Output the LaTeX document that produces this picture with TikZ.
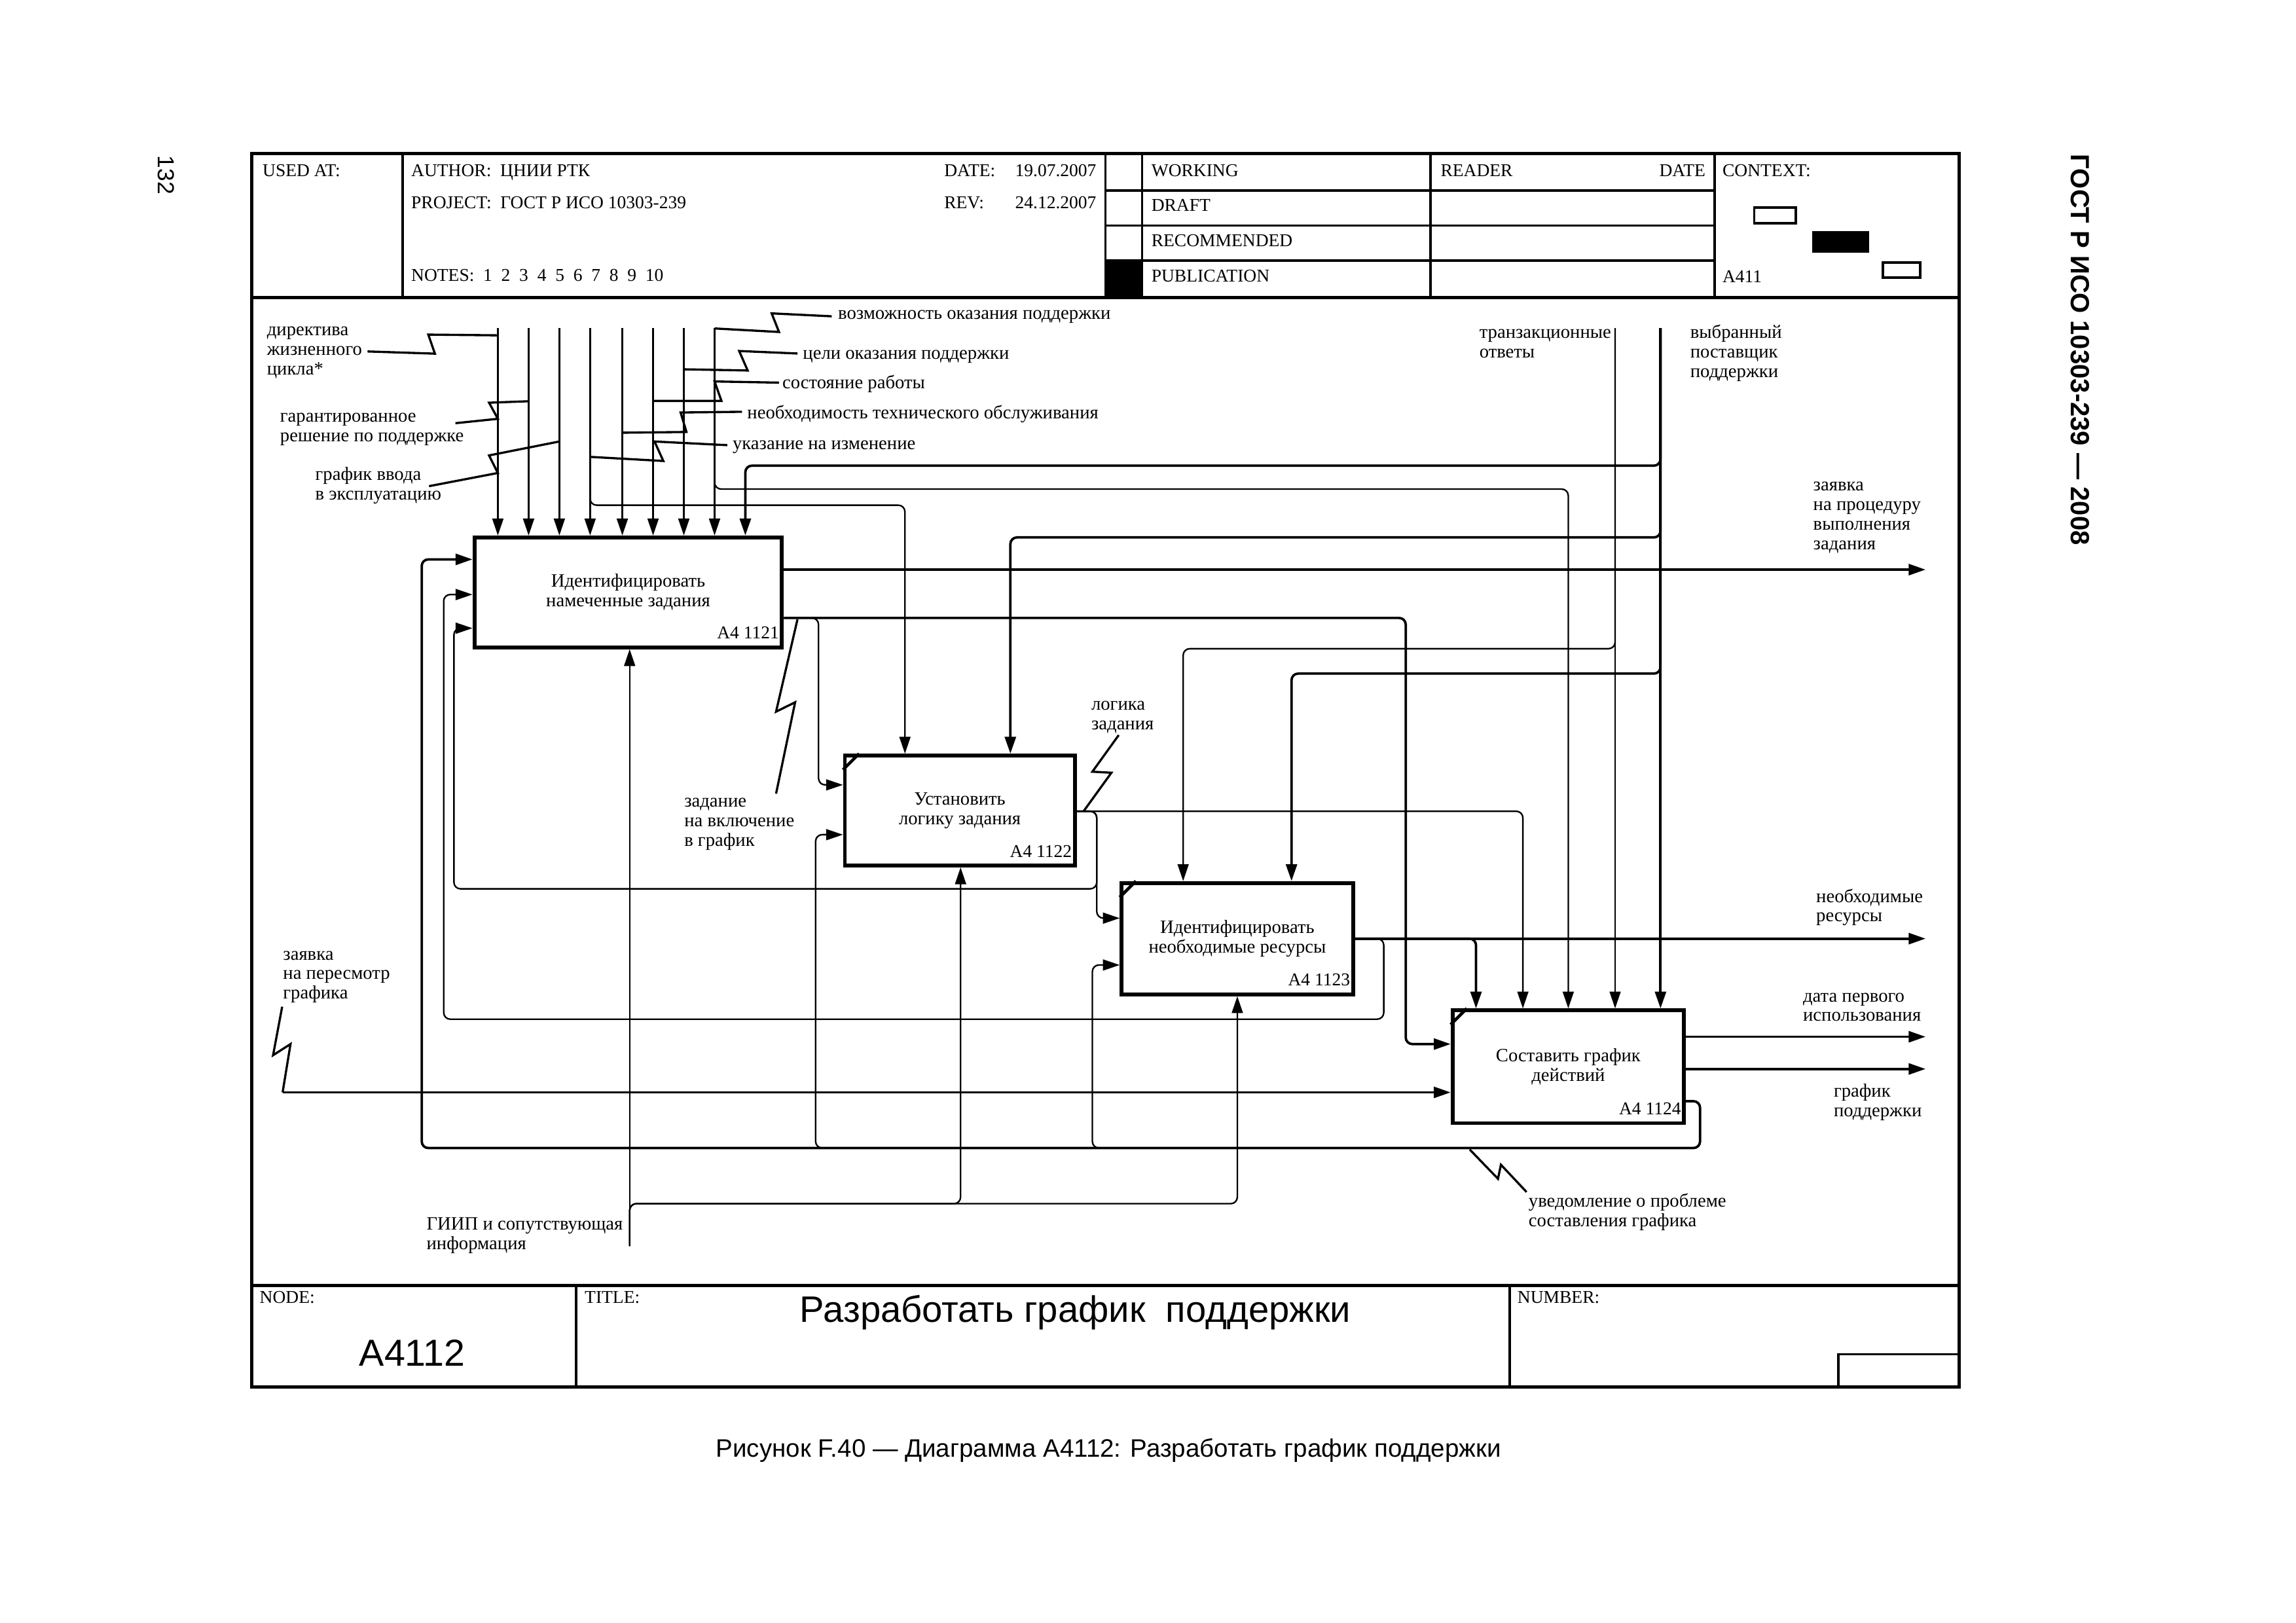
\documentclass[tikz,border=0pt]{standalone}
\usepackage{fontspec}
\setmainfont{Liberation Serif}
\newfontfamily\arialf{Liberation Sans}
\usetikzlibrary{arrows.meta,calc}
\newcommand\labfnt{\fontsize{7.3}{7.6}\selectfont}
\newcommand\hdrfnt{\fontsize{7}{7.5}\selectfont}
\newcommand\firstln{\rule{0pt}{5.2pt}}
\begin{document}
\begin{tikzpicture}[x=0.2mm,y=-0.2mm,
  thinl/.style={line width=0.6pt},
  thickl/.style={line width=0.95pt},
  arr/.style={-{Triangle[length=2.3mm,width=1.5mm]}},
  rc/.style={rounded corners=0.9mm},
  fbox/.style={draw,line width=1.5pt,inner sep=0pt,align=center,font=\labfnt},
  lab/.style={anchor=north west,inner sep=0pt,align=left,font=\labfnt},
  hd/.style={anchor=base west,inner sep=0pt,font=\hdrfnt},
  hde/.style={anchor=base east,inner sep=0pt,font=\hdrfnt},
  num/.style={anchor=base east,inner sep=0pt,font=\fontsize{7}{7}\selectfont},
  sq/.style={line width=0.85pt},
  frm/.style={line width=1.25pt},
  hln/.style={line width=0.9pt},
  tick/.style={line width=1.2pt}]
\useasboundingbox (0,0) rectangle (1568,1108);
\fill[white] (0,0) rectangle (1568,1108);

% ---------- frame ----------
\draw[frm] (172,105) rectangle (1338,947);
\draw[frm] (172,203) -- (1338,203);
\draw[frm] (172,878) -- (1338,878);
\draw[hln] (275,105) -- (275,203);
\draw[hln] (755,105) -- (755,203);
\draw[hln] (780,105) -- (780,203);
\draw[hln] (977,105) -- (977,203);
\draw[hln] (1171,105) -- (1171,203);
\draw[hln] (755,130) -- (1171,130);
\draw[hln] (755,154) -- (1171,154);
\draw[hln] (755,178) -- (1171,178);
\fill (755,178) rectangle (780,203);
\draw[line width=1pt] (1198,141.6) rectangle (1226.6,152.3);
\fill (1237.6,158) rectangle (1276.3,172.4);
\draw[line width=1pt] (1286,179.3) rectangle (1311.4,189.6);
\draw[hln] (393.5,878) -- (393.5,947);
\draw[hln] (1031,878) -- (1031,947);
\draw[hln] (1255.4,947) |- (1338,924.8);

% ---------- header texts ----------
\node[hd] (h1) at (179,120.5) {USED AT:};
\node[hd] (h2) at (280.5,120.5) {AUTHOR:~~ЦНИИ РТК};
\node[hd] (h3) at (644.5,120.5) {DATE:};
\node[hde] (h4) at (749,120.5) {19.07.2007};
\node[hd] (h5) at (280.5,142.5) {PROJECT:~~ГОСТ Р ИСО 10303-239};
\node[hd] (h6) at (644.5,142.5) {REV:};
\node[hde] (h7) at (749,142.5) {24.12.2007};
\node[hd] (h8) at (280.5,192) {NOTES:~~1~~2~~3~~4~~5~~6~~7~~8~~9~~10};
\node[hd] (h9) at (786,120.5) {WORKING};
\node[hd] (h10) at (786,144) {DRAFT};
\node[hd] (h11) at (786,168.5) {RECOMMENDED};
\node[hd] (h12) at (786,192.5) {PUBLICATION};
\node[hd] (h13) at (983.5,120.5) {READER};
\node[hde] (h14) at (1165,120.5) {DATE};
\node[hd] (h15) at (1176,120.5) {CONTEXT:};
\node[hd] (h16) at (1176,193) {A411};
\node[hd] (h17) at (177,890) {NODE:};
\node[hd] (h18) at (399,890) {TITLE:};
\node[hd] (h19) at (1036,890) {NUMBER:};
\node[anchor=base west,inner sep=0pt,font=\arialf\fontsize{14.6}{15}\selectfont] (nodeid) at (245,933) {A4112};
\node[anchor=base west,inner sep=0pt,font=\arialf\fontsize{14.3}{15}\selectfont] (title) at (546,903) {Разработать график~ поддержки};
\node[anchor=base,inner sep=0pt,font=\arialf\fontsize{9.8}{10}\selectfont] (caption) at (757,995) {Рисунок F.40 — Диаграмма A4112: Разработать график поддержки};
\node[rotate=-90,anchor=west,inner sep=0pt,font=\arialf\bfseries\fontsize{10.2}{10}\selectfont] (side) at (1420.5,105) {ГОСТ Р ИСО 10303-239 — 2008};
\node[rotate=-90,anchor=west,inner sep=0pt,font=\arialf\fontsize{9}{9}\selectfont] (page) at (113.5,106) {132};

% ---------- boxes ----------
\node[fbox,minimum width=42mm,minimum height=15mm] (b1) at (429,404.5) {Идентифицировать\\намеченные задания};
\node[fbox,minimum width=31.4mm,minimum height=15mm] (b2) at (655.5,553.5) {Установить\\логику задания};
\node[fbox,minimum width=31.6mm,minimum height=15.2mm] (b3) at (845,641) {Идентифицировать\\необходимые ресурсы};
\node[fbox,minimum width=31.6mm,minimum height=15.4mm] (b4) at (1071,728.5) {Составить график\\действий};
\node[num] (n1) at ($(b1.south east)+(-3,-7)$) {A4 1121};
\node[num] (n2) at ($(b2.south east)+(-3,-7)$) {A4 1122};
\node[num] (n3) at ($(b3.south east)+(-3,-7)$) {A4 1123};
\node[num] (n4) at ($(b4.south east)+(-3,-7)$) {A4 1124};
\draw[tick] ($(b2.north west)+(11,0)$) -- ($(b2.north west)+(0,11)$);
\draw[tick] ($(b3.north west)+(11,0)$) -- ($(b3.north west)+(0,11)$);
\draw[tick] ($(b4.north west)+(11,0)$) -- ($(b4.north west)+(0,11)$);

% ---------- coordinates ----------
\coordinate (t1) at (340,224);
\coordinate (t2) at (361,224);
\coordinate (t3) at (382,224);
\coordinate (t4) at (403,224);
\coordinate (t5) at (425,224);
\coordinate (t6) at (446,224);
\coordinate (t7) at (467,224);
\coordinate (t8) at (488,224);
\coordinate (t9) at (1134,224);
\coordinate (t10) at (1103,224);
\coordinate (k4) at (618,345);
\coordinate (k8) at (1071,334);
\coordinate (k9a) at (509,318);
\coordinate (k9b) at (690,367);
\coordinate (k9c) at (882,460);
\coordinate (k10) at (808,443);
\coordinate (o1a) at (1315,389);
\coordinate (r1) at (960,422);
\coordinate (k1b) at (960,713);
\coordinate (r1b) at (559,536);
\coordinate (r2) at (1040,554);
\coordinate (r2a) at (749,607);
\coordinate (r2b) at (310,429);
\coordinate (r2c) at (749,627);
\coordinate (o3) at (1315,641);
\coordinate (r3a) at (1008,641);
\coordinate (r3b) at (945,696);
\coordinate (r3c) at (303,406);
\coordinate (o4a) at (1315,708);
\coordinate (o4b) at (1315,730);
\coordinate (r4y) at (1161,752);
\coordinate (r4a) at (1161,784);
\coordinate (r4b) at (288,382);
\coordinate (r4c) at (557,570);
\coordinate (r4d) at (746,659);
\coordinate (i4) at (193,746);
\coordinate (m1) at (430,851);
\coordinate (m2) at (656,822);
\coordinate (m3) at (845,822);

% ---------- controls ----------
\foreach \t in {t1,t2,t3,t4,t5,t6,t7,t8}
  \draw[thinl,arr] (\t) -- (\t |- b1.north);
\draw[thinl,arr,rc] (t4) |- (k4) -- (k4 |- b2.north);
\draw[thinl,arr,rc] (t8) |- (k8) -- (k8 |- b4.north);
\draw[thickl,arr] (t9) -- (t9 |- b4.north);
\draw[thickl,arr,rc] (t9) |- (k9a) -- (k9a |- b1.north);
\draw[thickl,arr,rc] (t9) |- (k9b) -- (k9b |- b2.north);
\draw[thickl,arr,rc] (t9) |- (k9c) -- (k9c |- b3.north);
\draw[thinl,arr] (t10) -- (t10 |- b4.north);
\draw[thinl,arr,rc] (t10) |- (k10) -- (k10 |- b3.north);

% ---------- box 1 outputs ----------
\draw[thickl,arr] (b1.east |- o1a) -- (o1a);
\draw[thickl,arr,rc] (b1.east |- r1) -- (r1) -- (k1b) -- (b4.west |- k1b);
\draw[thinl,arr,rc] (b1.east |- r1) -| (r1b) -- (b2.west |- r1b);

% ---------- box 2 outputs ----------
\draw[thinl,arr,rc] (b2.east |- r2) -- (r2) -- (r2 |- b4.north);
\draw[thinl,arr,rc] (b2.east |- r2) -| (r2a) -| (r2b) -- (b1.west |- r2b);
\draw[thinl,arr,rc] (b2.east |- r2) -| (r2c) -- (b3.west |- r2c);

% ---------- box 3 outputs ----------
\draw[thickl,arr] (b3.east |- o3) -- (o3);
\draw[thickl,arr,rc] (b3.east |- o3) -- (r3a) -- (r3a |- b4.north);
\draw[thinl,arr,rc] (b3.east |- o3) -| (r3b) -| (r3c) -- (b1.west |- r3c);

% ---------- box 4 outputs ----------
\draw[thickl,arr] (b4.east |- o4a) -- (o4a);
\draw[thickl,arr] (b4.east |- o4b) -- (o4b);
\draw[thinl,arr,rc] (b4.east |- r4y) -- (r4y) -- (r4a) -| (r4c) -- (b2.west |- r4c);
\draw[thinl,arr,rc] (b4.east |- r4y) -- (r4y) -- (r4a) -| (r4d) -- (b3.west |- r4d);
\draw[thickl,arr,rc] (b4.east |- r4y) -- (r4y) -- (r4a) -| (r4b) -- (b1.west |- r4b);

% ---------- inputs / mechanisms ----------
\draw[thickl,arr] (i4) -- (b4.west |- i4);
\draw[thinl,arr] (m1) -- (m1 |- b1.south);
\draw[thinl,arr,rc] (m1) |- (m2) -- (m2 |- b2.south);
\draw[thinl,arr,rc] (m1) |- (m3) -- (m3 |- b3.south);

% ---------- squiggles ----------
\draw[sq] (251,240) -- (297,241.5) -- (292.5,228.5) -- (340,229);
\draw[sq] (311,289) -- (340,286) -- (334,275) -- (361,274);
\draw[sq] (293,332) -- (340,323) -- (334,311) -- (382,301.5);
\draw[sq] (568,216) -- (527,214) -- (532,226.7) -- (488,224.3);
\draw[sq] (544.6,241.4) -- (504.8,239.7) -- (510.6,253) -- (467,252.2);
\draw[sq] (532,261.3) -- (488,260.5) -- (492.7,273.8) -- (446,273.8);
\draw[sq] (506.7,281.2) -- (464.8,281.7) -- (468.8,295) -- (425,295.5);
\draw[sq] (496.7,304) -- (447,301.5) -- (453,314.8) -- (403,312);
\draw[sq] (544.6,423) -- (530,486) -- (543,479.6) -- (530,542);
\draw[sq] (764,502) -- (746,527) -- (759,527.7) -- (740,554);
\draw[sq] (193,746) -- (198.4,713) -- (186.5,720.6) -- (192.7,687.5);
\draw[sq] (1003.7,785) -- (1023,805) -- (1025,795.4) -- (1042.5,814);

% ---------- labels ----------
\node[lab] (l1) at (182,219.6) {\firstln директива\\жизненного\\цикла*};
\node[lab] (l2) at (191,278.6) {\firstln гарантированное\\решение по поддержке};
\node[lab] (l3) at (215,318.6) {\firstln график ввода\\в эксплуатацию};
\node[lab] (l4) at (572,208.6) {\firstln возможность оказания поддержки};
\node[lab] (l5) at (548,235.6) {\firstln цели оказания поддержки};
\node[lab] (l6) at (534,255.6) {\firstln состояние работы};
\node[lab] (l7) at (510,276.6) {\firstln необходимость технического обслуживания};
\node[lab] (l8) at (500,297.6) {\firstln указание на изменение};
\node[lab] (l9) at (1010,221.6) {\firstln транзакционные\\ответы};
\node[lab] (l10) at (1154,221.6) {\firstln выбранный\\поставщик\\поддержки};
\node[lab] (l11) at (1238,325.6) {\firstln заявка\\на процедуру\\выполнения\\задания};
\node[lab] (l12) at (467,541.6) {\firstln задание\\на включение\\в график};
\node[lab] (l13) at (745,475.6) {\firstln логика\\задания};
\node[lab] (l14) at (1240,606.6) {\firstln необходимые\\ресурсы};
\node[lab] (l15) at (1231,674.6) {\firstln дата первого\\использования};
\node[lab] (l16) at (1252,739.6) {\firstln график\\поддержки};
\node[lab] (l17) at (193,646) {\firstln заявка\\на пересмотр\\графика};
\node[lab] (l18) at (1043.6,814.6) {\firstln уведомление о проблеме\\составления графика};
\node[lab] (l19) at (291,830.3) {\firstln ГИИП и сопутствующая\\информация};
\end{tikzpicture}
\end{document}
